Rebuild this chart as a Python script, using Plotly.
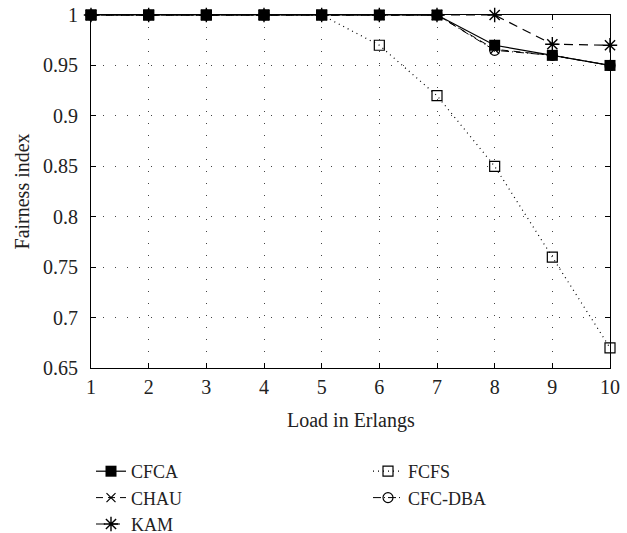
import plotly.graph_objects as go

load = [1, 2, 3, 4, 5, 6, 7, 8, 9, 10]
cfca = [1, 1, 1, 1, 1, 1, 1, 0.97, 0.96, 0.95]
chau = [1, 1, 1, 1, 1, 1, 1, 0.966, 0.96, 0.95]
kam = [1, 1, 1, 1, 1, 1, 1, 1, 0.971, 0.97]
fcfs = [1, 1, 1, 1, 1, 0.97, 0.92, 0.85, 0.76, 0.67]
cfcdba = [1, 1, 1, 1, 1, 1, 1, 0.965, 0.96, 0.95]
yticks = [0.65, 0.7, 0.75, 0.8, 0.85, 0.9, 0.95, 1]
ytick_text = ["0.65", "0.7", "0.75", "0.8", "0.85", "0.9", "0.95", "1"]

FONT = "Liberation Serif"
TXT = "#222"
fig = go.Figure()

fig.add_trace(go.Scatter(x=load, y=fcfs, name="FCFS", mode="lines+markers",
    line=dict(color="black", width=1.2, dash="1px,4px"),
    marker=dict(symbol="square-open", size=10, color="black", line=dict(width=1.2)),
    legend="legend2", legendrank=4, cliponaxis=False))
fig.add_trace(go.Scatter(x=load, y=cfcdba, name="CFC-DBA", mode="lines+markers",
    line=dict(color="black", width=1, dash="8px,3px,1px,3px"),
    marker=dict(symbol="circle-open", size=10, color="black", line=dict(width=1.2)),
    legend="legend2", legendrank=5, cliponaxis=False))
fig.add_trace(go.Scatter(x=load, y=kam, name="KAM", mode="lines+markers",
    line=dict(color="black", width=1.2, dash="9px,6px"),
    marker=dict(symbol="asterisk-open", size=12, color="black", line=dict(width=1.4)),
    legend="legend", legendrank=3, cliponaxis=False))
fig.add_trace(go.Scatter(x=load, y=chau, name="CHAU", mode="lines+markers",
    line=dict(color="black", width=1, dash="7px,5px"),
    marker=dict(symbol="x-thin-open", size=9, color="black", line=dict(width=1.2)),
    legend="legend", legendrank=2, cliponaxis=False))
fig.add_trace(go.Scatter(x=load, y=cfca, name="CFCA", mode="lines+markers",
    line=dict(color="black", width=1.2),
    marker=dict(symbol="square", size=11, color="black"),
    legend="legend", legendrank=1, cliponaxis=False))

axis_common = dict(showline=True, linecolor="black", linewidth=1.2, mirror="ticks",
                   ticks="inside", ticklen=5, tickcolor="black",
                   showgrid=True, gridcolor="#444", gridwidth=1, griddash="1px,11px",
                   zeroline=False, automargin=False,
                   tickfont=dict(family=FONT, size=20, color=TXT))

fig.update_xaxes(range=[1, 10], tickvals=load, ticklabelstandoff=1, **axis_common)
fig.update_yaxes(range=[0.65, 1], tickvals=yticks, ticktext=ytick_text,
                 ticklabelstandoff=8, **axis_common)

legfont = dict(family=FONT, size=18, color=TXT)
fig.update_layout(
    template="none",
    width=627, height=533,
    margin=dict(l=91, r=17, t=15, b=165, autoexpand=False),
    plot_bgcolor="white", paper_bgcolor="white",
    font=dict(family=FONT, color=TXT),
    legend=dict(xref="container", yref="container", x=91/627, y=1 - 453/533,
                xanchor="left", yanchor="top", traceorder="normal",
                font=legfont, bgcolor="rgba(0,0,0,0)", itemwidth=30),
    legend2=dict(xref="container", yref="container", x=368/627, y=1 - 453/533,
                 xanchor="left", yanchor="top", traceorder="normal",
                 font=legfont, bgcolor="rgba(0,0,0,0)", itemwidth=30),
    showlegend=True,
    annotations=[
        dict(text="Load in Erlangs", xref="paper", yref="paper", x=0.5, y=-0.15,
             xanchor="center", yanchor="middle", showarrow=False,
             font=dict(family=FONT, size=20, color=TXT)),
        dict(text="Fairness index", xref="paper", yref="paper", x=-0.133, y=0.5,
             xanchor="center", yanchor="middle", showarrow=False, textangle=-90,
             font=dict(family=FONT, size=20, color=TXT)),
    ],
)

fig.write_html("out.html", config={"displayModeBar": False},
               post_script="document.body.style.margin='0px';")
